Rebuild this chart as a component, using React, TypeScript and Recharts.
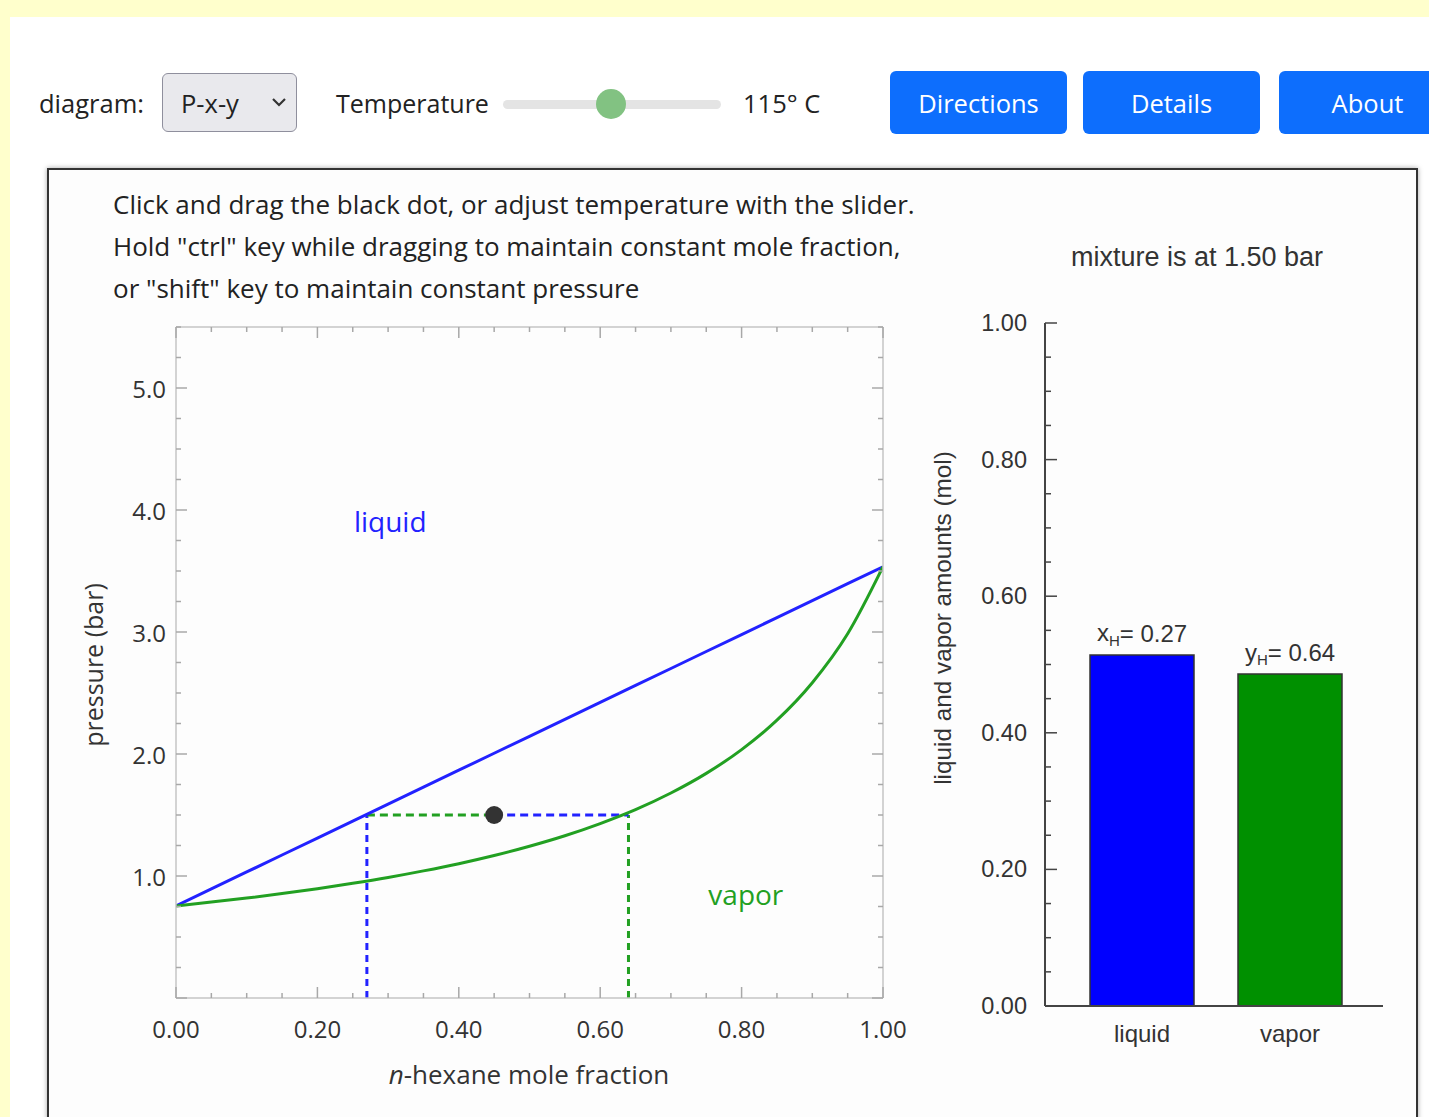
import React from 'react';
import {
  ComposedChart, Line, XAxis, YAxis, ReferenceLine, ReferenceDot,
  BarChart, Bar, Cell, LabelList,
} from 'recharts';

// ---------- data ----------
const X_GRID = [0, 0.05, 0.1, 0.15, 0.2, 0.25, 0.3, 0.35, 0.4, 0.45, 0.5, 0.55, 0.6, 0.65, 0.7, 0.75, 0.8, 0.85, 0.9, 0.95, 1.0];
const P_BUBBLE = [0.755, 0.894, 1.033, 1.172, 1.311, 1.45, 1.589, 1.728, 1.867, 2.006, 2.145, 2.284, 2.423, 2.562, 2.701, 2.84, 2.979, 3.118, 3.257, 3.396, 3.535];
const P_DEW = [0.755, 0.786, 0.819, 0.856, 0.896, 0.94, 0.988, 1.042, 1.101, 1.168, 1.244, 1.33, 1.43, 1.544, 1.68, 1.841, 2.036, 2.277, 2.584, 2.985, 3.535];

const X_TICKS = [0, 0.05, 0.1, 0.15, 0.2, 0.25, 0.3, 0.35, 0.4, 0.45, 0.5, 0.55, 0.6, 0.65, 0.7, 0.75, 0.8, 0.85, 0.9, 0.95, 1.0];
const Y_TICKS = [0, 0.25, 0.5, 0.75, 1, 1.25, 1.5, 1.75, 2, 2.25, 2.5, 2.75, 3, 3.25, 3.5, 3.75, 4, 4.25, 4.5, 4.75, 5, 5.25, 5.5];

const MIX_X = 0.45;
const MIX_P = 1.5;
const LIQ_X = 0.27;
const VAP_Y = 0.64;

const BAR_CATS = ['liquid', 'vapor'];
const BAR_VALUES = [0.514, 0.486];
const BAR_COLORS = ['#0000ff', '#009000'];
const BAR_SYMBOLS = ['x', 'y'];
const BAR_COMPS = [0.27, 0.64];
const BAR_Y_TICKS = [0, 0.05, 0.1, 0.15, 0.2, 0.25, 0.3, 0.35, 0.4, 0.45, 0.5, 0.55, 0.6, 0.65, 0.7, 0.75, 0.8, 0.85, 0.9, 0.95, 1.0];

const bubbleData = X_GRID.map((x, i) => ({ x, p: P_BUBBLE[i] }));
const dewData = X_GRID.map((x, i) => ({ x, p: P_DEW[i] }));
const barData = BAR_CATS.map((name, i) => ({ name, v: BAR_VALUES[i] }));

const UI_FONT = '"Open Sans", "Noto Sans", sans-serif';
const ARIAL = '"Liberation Sans", Arial, sans-serif';
const BLUE = '#2222ff';
const GREEN = '#22a022';
const AXIS_GRAY = '#c4c4c4';
const TICK_GRAY = '#a8a8a8';

const isMult = (v: number, step: number) => Math.abs(v / step - Math.round(v / step)) < 1e-6;

// ---------- custom ticks: left chart ----------
const BottomTick = (props: any) => {
  const { x, y, payload } = props;
  const v = payload.value as number;
  const major = isMult(v, 0.2);
  return (
    <g>
      <line x1={x} x2={x} y1={y} y2={y - (major ? 11 : 5)} stroke={TICK_GRAY} strokeWidth={1.5} />
      {major && (
        <text x={x} y={y + 30} textAnchor="middle" dominantBaseline="central" fontSize={24} fontFamily={UI_FONT} fill="#333">
          {v.toFixed(2)}
        </text>
      )}
    </g>
  );
};
const TopTick = (props: any) => {
  const { x, y, payload } = props;
  const v = payload.value as number;
  const major = isMult(v, 0.2);
  return <line x1={x} x2={x} y1={y} y2={y + (major ? 11 : 5)} stroke={TICK_GRAY} strokeWidth={1.5} />;
};
const LeftTick = (props: any) => {
  const { x, y, payload } = props;
  const v = payload.value as number;
  const major = isMult(v, 1);
  return (
    <g>
      <line x1={x} x2={x + (major ? 11 : 5)} y1={y} y2={y} stroke={TICK_GRAY} strokeWidth={1.5} />
      {major && v > 0 && v < 5.5 && (
        <text x={x - 10} y={y} textAnchor="end" dominantBaseline="central" fontSize={24} fontFamily={UI_FONT} fill="#333">
          {v.toFixed(1)}
        </text>
      )}
    </g>
  );
};
const RightTick = (props: any) => {
  const { x, y, payload } = props;
  const v = payload.value as number;
  const major = isMult(v, 1);
  return <line x1={x} x2={x - (major ? 11 : 5)} y1={y} y2={y} stroke={TICK_GRAY} strokeWidth={1.5} />;
};

// ---------- custom ticks: bar chart ----------
const BarYTick = (props: any) => {
  const { x, y, payload } = props;
  const v = payload.value as number;
  const major = isMult(v, 0.2);
  return (
    <g>
      <line x1={x} x2={x + (major ? 12 : 6)} y1={y} y2={y} stroke="#444" strokeWidth={1.5} />
      {major && (
        <text x={x - 18} y={y} textAnchor="end" dominantBaseline="central" fontSize={23.5} fontFamily={ARIAL} fill="#333">
          {v.toFixed(2)}
        </text>
      )}
    </g>
  );
};
const BarXTick = (props: any) => {
  const { x, y, payload } = props;
  return (
    <text x={x} y={y + 27} textAnchor="middle" dominantBaseline="central" fontSize={24} fontFamily={ARIAL} fill="#333">
      {payload.value}
    </text>
  );
};
const BarTopLabel = (props: any) => {
  const { x, y, width, index } = props;
  return (
    <text x={x + width / 2} y={y - 22} textAnchor="middle" fontSize={24} fontFamily={ARIAL} fill="#333" dominantBaseline="central">
      {BAR_SYMBOLS[index]}
      <tspan fontSize={15} dy={7}>H</tspan>
      <tspan fontSize={24} dy={-7}>{'= ' + BAR_COMPS[index].toFixed(2)}</tspan>
    </text>
  );
};

const abs = (l: number, t: number, extra: React.CSSProperties = {}): React.CSSProperties => ({
  position: 'absolute', left: l, top: t, ...extra,
});

export default function App() {
  return (
    <div style={{ position: 'absolute', left: 0, top: 0, width: 1429, height: 1117, overflow: 'hidden', background: '#ffffcc', fontFamily: UI_FONT }}>
      <div style={abs(10, 17, { right: 0, bottom: 0, background: '#ffffff' })} />

      {/* controls */}
      <div style={abs(39, 86, { fontSize: 25.5, lineHeight: '34px', color: '#222' })}>diagram:</div>
      <div style={abs(162, 73, { width: 135, height: 59, boxSizing: 'border-box', border: '1.5px solid #8f8f9d', borderRadius: 6, background: '#e9e9ed' })}>
        <div style={abs(18, 12, { fontSize: 25.5, lineHeight: '34px', color: '#222' })}>P-x-y</div>
        <svg style={abs(108, 22)} width={16} height={12}>
          <polyline points="2,3 8,9 14,3" fill="none" stroke="#333" strokeWidth={2.2} />
        </svg>
      </div>
      <div style={abs(336, 86, { fontSize: 25, lineHeight: '34px', color: '#222' })}>Temperature</div>
      <div style={abs(503, 100, { width: 218, height: 9, borderRadius: 5, background: '#e4e4e4' })} />
      <div style={abs(596, 89, { width: 30, height: 30, borderRadius: 15, background: '#82c282' })} />
      <div style={abs(743, 86, { fontSize: 25.5, lineHeight: '34px', color: '#222' })}>115° C</div>
      {[['Directions', 890], ['Details', 1083], ['About', 1279]].map(([label, left]) => (
        <div key={label as string} style={abs(left as number, 71, {
          width: 177, height: 63, borderRadius: 6, background: '#0d6efd', color: '#fff', fontSize: 25.5,
          display: 'flex', alignItems: 'center', justifyContent: 'center',
        })}>{label}</div>
      ))}

      {/* frame */}
      <div style={abs(47, 168, { width: 1371, height: 1000, boxSizing: 'border-box', border: '2px solid #333', background: '#fdfdfd', boxShadow: '0 0 5px rgba(0,0,0,0.35)' })} />

      {/* instructions */}
      <div style={abs(113, 183, { fontSize: 26, lineHeight: '42px', color: '#222', whiteSpace: 'nowrap' })}>
        Click and drag the black dot, or adjust temperature with the slider.<br />
        Hold "ctrl" key while dragging to maintain constant mole fraction,<br />
        or "shift" key to maintain constant pressure
      </div>

      {/* P-x-y chart */}
      <div style={abs(60, 300)}>
        <ComposedChart width={860} height={800} margin={{ top: 26, right: 36, left: 0, bottom: 0 }}>
          <XAxis type="number" dataKey="x" domain={[0, 1]} ticks={X_TICKS} interval={0} height={102}
            axisLine={{ stroke: AXIS_GRAY, strokeWidth: 1.5 }} tickLine={false} tickSize={0} tickMargin={0} tick={<BottomTick />} allowDataOverflow />
          <XAxis xAxisId="t" orientation="top" type="number" dataKey="x" domain={[0, 1]} ticks={X_TICKS} interval={0} height={1}
            axisLine={{ stroke: AXIS_GRAY, strokeWidth: 1.5 }} tickLine={false} tickSize={0} tickMargin={0} tick={<TopTick />} allowDataOverflow />
          <YAxis type="number" domain={[0, 5.5]} ticks={Y_TICKS} interval={0} width={116}
            axisLine={{ stroke: AXIS_GRAY, strokeWidth: 1.5 }} tickLine={false} tickSize={0} tickMargin={0} tick={<LeftTick />} allowDataOverflow />
          <YAxis yAxisId="r" orientation="right" type="number" domain={[0, 5.5]} ticks={Y_TICKS} interval={0} width={1}
            axisLine={{ stroke: AXIS_GRAY, strokeWidth: 1.5 }} tickLine={false} tickSize={0} tickMargin={0} tick={<RightTick />} allowDataOverflow />

          <ReferenceLine segment={[{ x: LIQ_X, y: 0 }, { x: LIQ_X, y: MIX_P }]} stroke={BLUE} strokeWidth={3} strokeDasharray="7 5" />
          <ReferenceLine segment={[{ x: VAP_Y, y: 0 }, { x: VAP_Y, y: MIX_P }]} stroke={GREEN} strokeWidth={3} strokeDasharray="7 5" />
          <ReferenceLine segment={[{ x: LIQ_X, y: MIX_P }, { x: MIX_X, y: MIX_P }]} stroke={GREEN} strokeWidth={3} strokeDasharray="8 5" />
          <ReferenceLine segment={[{ x: MIX_X, y: MIX_P }, { x: VAP_Y, y: MIX_P }]} stroke={BLUE} strokeWidth={3} strokeDasharray="8 5" />

          <Line data={bubbleData} dataKey="p" type="linear" stroke={BLUE} strokeWidth={3} dot={false} isAnimationActive={false} />
          <Line data={dewData} dataKey="p" type="monotone" stroke={GREEN} strokeWidth={3} dot={false} isAnimationActive={false} />

          <ReferenceDot x={MIX_X} y={MIX_P} r={9} fill="#333" stroke="none" />
          <ReferenceDot x={0.303} y={3.9} r={0} stroke="none" fill="none"
            label={{ value: 'liquid', position: 'center', fill: BLUE, fontSize: 28, fontFamily: UI_FONT }} />
          <ReferenceDot x={0.806} y={0.84} r={0} stroke="none" fill="none"
            label={{ value: 'vapor', position: 'center', fill: GREEN, fontSize: 28, fontFamily: UI_FONT }} />
        </ComposedChart>
      </div>
      <div style={abs(529, 1074, { transform: 'translate(-50%, -50%)', fontSize: 26, color: '#333', whiteSpace: 'nowrap' })}>
        <i>n</i>-hexane mole fraction
      </div>
      <div style={abs(93, 665, { transform: 'translate(-50%, -50%) rotate(-90deg)', fontSize: 25, color: '#333', whiteSpace: 'nowrap' })}>
        pressure (bar)
      </div>

      {/* bar chart */}
      <div style={abs(1197, 257, { transform: 'translate(-50%, -50%)', fontSize: 27, fontFamily: ARIAL, color: '#333', whiteSpace: 'nowrap' })}>
        mixture is at {MIX_P.toFixed(2)} bar
      </div>
      <div style={abs(943, 618, { transform: 'translate(-50%, -50%) rotate(-90deg)', fontSize: 24.3, fontFamily: ARIAL, color: '#333', whiteSpace: 'nowrap' })}>
        liquid and vapor amounts (mol)
      </div>
      <div style={abs(925, 230)}>
        <BarChart width={480} height={850} data={barData} margin={{ top: 93, right: 22, left: 0, bottom: 0 }} barSize={104}>
          <XAxis dataKey="name" height={74} padding={{ left: 23, right: 19 }} interval={0}
            axisLine={{ stroke: '#444', strokeWidth: 2 }} tickLine={false} tickSize={0} tickMargin={0} tick={<BarXTick />} />
          <YAxis type="number" domain={[0, 1]} ticks={BAR_Y_TICKS} interval={0} width={120}
            axisLine={{ stroke: '#444', strokeWidth: 2 }} tickLine={false} tickSize={0} tickMargin={0} tick={<BarYTick />} />
          <Bar dataKey="v" isAnimationActive={false} stroke="#333" strokeWidth={1.5}>
            {barData.map((d, i) => <Cell key={d.name} fill={BAR_COLORS[i]} />)}
            <LabelList dataKey="v" content={<BarTopLabel />} />
          </Bar>
        </BarChart>
      </div>
    </div>
  );
}
